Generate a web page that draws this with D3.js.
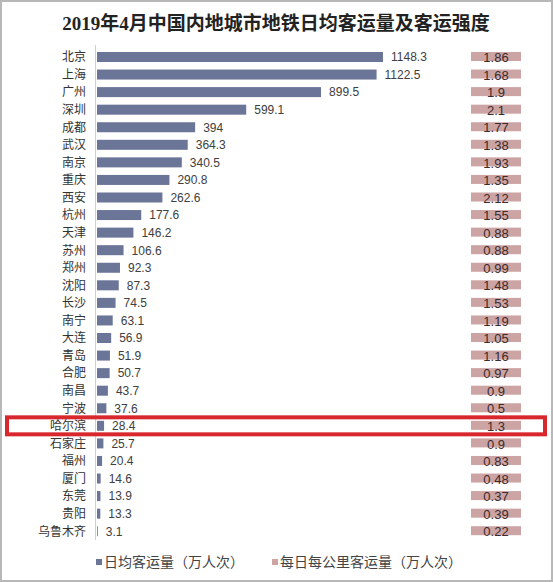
<!DOCTYPE html>
<html>
<head>
<meta charset="utf-8">
<script src="https://cdn.jsdelivr.net/npm/d3@7"></script>
<style>
  html, body { margin: 0; padding: 0; background: #fff; }
  #chart { width: 553px; height: 582px; }
</style>
</head>
<body>
<div id="chart"></div>
<script>
(function() {
const cities = ["北京", "上海", "广州", "深圳", "成都", "武汉", "南京", "重庆", "西安", "杭州",
  "天津", "苏州", "郑州", "沈阳", "长沙", "南宁", "大连", "青岛", "合肥", "南昌",
  "宁波", "哈尔滨", "石家庄", "福州", "厦门", "东莞", "贵阳", "乌鲁木齐"];
const dailyRidership = [1148.3, 1122.5, 899.5, 599.1, 394, 364.3, 340.5, 290.8, 262.6, 177.6,
  146.2, 106.6, 92.3, 87.3, 74.5, 63.1, 56.9, 51.9, 50.7, 43.7,
  37.6, 28.4, 25.7, 20.4, 14.6, 13.9, 13.3, 3.1];
const intensity = ["1.86", "1.68", "1.9", "2.1", "1.77", "1.38", "1.93", "1.35", "2.12", "1.55",
  "0.88", "0.88", "0.99", "1.48", "1.53", "1.19", "1.05", "1.16", "0.97", "0.9",
  "0.5", "1.3", "0.9", "0.83", "0.48", "0.37", "0.39", "0.22"];
const seriesNames = ["日均客运量（万人次）", "每日每公里客运量（万人次）"];
const highlight = "哈尔滨";

const W = 553, H = 582;
const blue = "#6b7598", pink = "#cda4a4";
const rows = cities.map((c, i) => ({ city: c, value: dailyRidership[i], intensity: intensity[i] }));

const svg = d3.select('#chart').append('svg')
  .attr('width', W).attr('height', H);

// outer frame
svg.append('rect')
  .attr('x', 1).attr('y', 1).attr('width', W - 2).attr('height', H - 2)
  .attr('fill', '#fff').attr('stroke', '#b8b8b8').attr('stroke-width', 2);

svg.append('text')
  .attr('x', 276).attr('y', 30)
  .attr('text-anchor', 'middle')
  .attr('font-family', '"Liberation Serif", "Noto Sans CJK SC", serif')
  .attr('font-weight', 'bold')
  .attr('font-size', 19)
  .attr('fill', '#222')
  .text('2019年4月中国内地城市地铁日均客运量及客运强度');

const y = d3.scaleBand()
  .domain(cities)
  .range([48.2, 540])
  .paddingInner(0.43)
  .paddingOuter(0.215);

const x = d3.scaleLinear()
  .domain([0, d3.max(dailyRidership)])
  .range([97, 383]);

// axis line
svg.append('line')
  .attr('x1', 95.5).attr('x2', 95.5)
  .attr('y1', 45).attr('y2', 540)
  .attr('stroke', '#d0d0d0').attr('stroke-width', 1);

// city labels
svg.append('g').selectAll('text')
  .data(rows).enter().append('text')
  .attr('x', 86)
  .attr('y', d => y(d.city) + y.bandwidth() / 2)
  .attr('dy', '0.36em')
  .attr('text-anchor', 'end')
  .attr('font-family', '"Noto Sans CJK SC", sans-serif')
  .attr('font-size', 12)
  .attr('fill', '#333')
  .text(d => d.city);

// ridership bars
svg.append('g').selectAll('rect')
  .data(rows).enter().append('rect')
  .attr('x', x(0))
  .attr('y', d => y(d.city))
  .attr('width', d => x(d.value) - x(0))
  .attr('height', y.bandwidth())
  .attr('fill', blue);

svg.append('g').selectAll('text')
  .data(rows).enter().append('text')
  .attr('x', d => x(d.value) + 8)
  .attr('y', d => y(d.city) + y.bandwidth() / 2)
  .attr('dy', '0.36em')
  .attr('font-family', '"Liberation Sans", Arial, sans-serif')
  .attr('font-size', 12)
  .attr('fill', '#404040')
  .text(d => d.value);

// intensity column (fixed-width cells)
svg.append('g').selectAll('rect')
  .data(rows).enter().append('rect')
  .attr('x', 471)
  .attr('y', d => y(d.city))
  .attr('width', 50)
  .attr('height', y.bandwidth() - 1)
  .attr('fill', pink);

svg.append('g').selectAll('text')
  .data(rows).enter().append('text')
  .attr('x', 496)
  .attr('y', d => y(d.city) + y.bandwidth() / 2 + 0.5)
  .attr('dy', '0.36em')
  .attr('text-anchor', 'middle')
  .attr('font-family', '"Liberation Sans", Arial, sans-serif')
  .attr('font-size', 13)
  .attr('fill', '#3b2b2b')
  .text(d => d.intensity);

// highlight box
const hy = y(highlight) + y.bandwidth() / 2;
svg.append('rect')
  .attr('x', 7).attr('y', hy - 8.5)
  .attr('width', 538).attr('height', 17)
  .attr('fill', 'none')
  .attr('stroke', '#d9272e')
  .attr('stroke-width', 4);

// legend
const legend = [
  { name: seriesNames[0], color: blue, x: 96 },
  { name: seriesNames[1], color: pink, x: 272 }
];
const lg = svg.append('g').selectAll('g')
  .data(legend).enter().append('g')
  .attr('transform', d => `translate(${d.x}, 562)`);
lg.append('rect')
  .attr('x', 0).attr('y', -3)
  .attr('width', 6).attr('height', 6)
  .attr('fill', d => d.color);
lg.append('text')
  .attr('x', 8).attr('dy', '0.36em')
  .attr('font-family', '"Noto Sans CJK SC", sans-serif')
  .attr('font-size', 14)
  .attr('fill', '#444')
  .text(d => d.name);
})();
</script>
</body>
</html>
